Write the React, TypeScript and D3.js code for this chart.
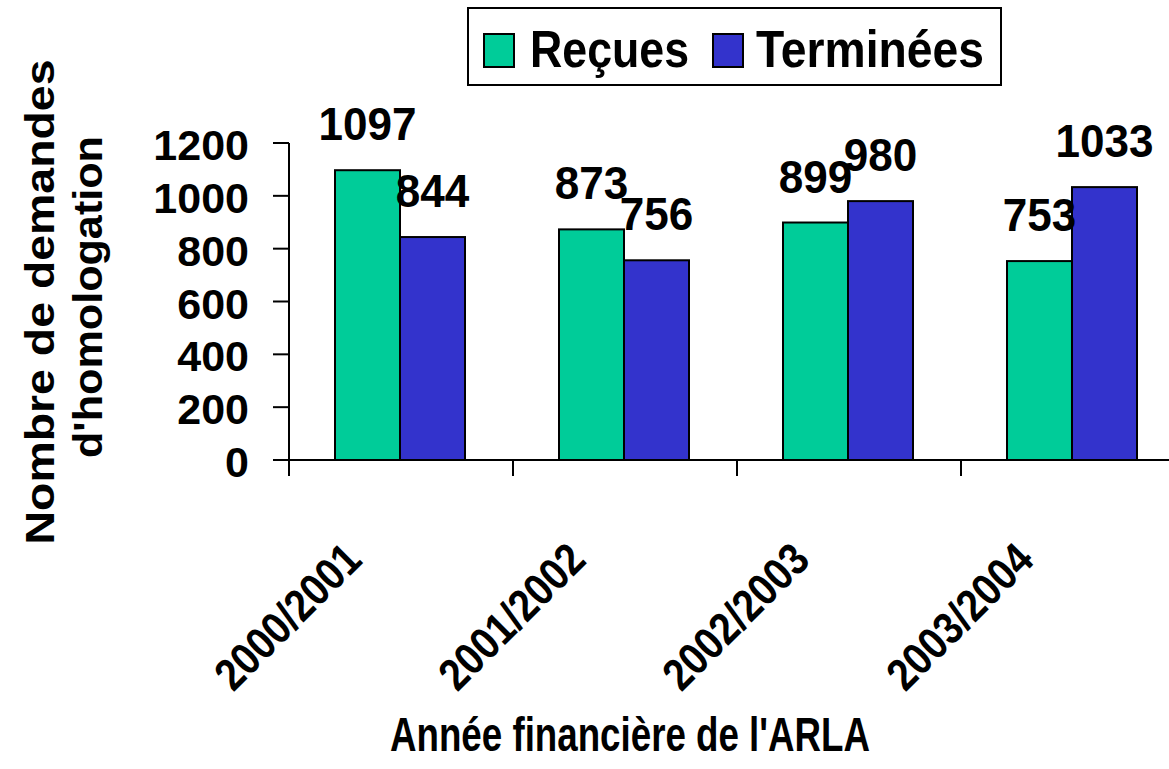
import React from 'react';
import * as d3 from 'd3';

const categories = ['2000/2001', '2001/2002', '2002/2003', '2003/2004'];
const seriesNames = ['Reçues', 'Terminées'];
const recues = [1097, 873, 899, 753];
const terminees = [844, 756, 980, 1033];
const yTicks = [0, 200, 400, 600, 800, 1000, 1200];
const colors = ['#00CC99', '#3333CC'];
const FONT = "Arial, 'Liberation Sans', Helvetica, sans-serif";

export default function App() {
  const W = 1169;
  const H = 769;
  const plotLeft = 289;
  const band = 224;
  const x0 = d3.scaleBand<string>().domain(categories).range([plotLeft, plotLeft + band * categories.length]).padding(0);
  const x1 = d3.scaleBand<string>().domain(seriesNames).range([46, 46 + 130]).padding(0);
  const y = d3.scaleLinear().domain([0, 1200]).range([460, 143]);
  const series = [recues, terminees];

  return (
    <svg width={W} height={H} style={{ position: 'absolute', left: 0, top: 0, background: '#fff' }} fontFamily={FONT} fontWeight="bold">
      <rect x={0} y={0} width={W} height={H} fill="#fff" />
      {/* bars */}
      {categories.map((c, i) =>
        seriesNames.map((s, k) => {
          const v = series[k][i];
          const bx = (x0(c) as number) + (x1(s) as number);
          return (
            <rect key={c + s} x={bx} y={y(v)} width={x1.bandwidth()} height={y(0) - y(v)} fill={colors[k]} stroke="#000" strokeWidth={2} />
          );
        })
      )}
      {/* axes */}
      <line x1={plotLeft} y1={y(1200)} x2={plotLeft} y2={476} stroke="#000" strokeWidth={2} />
      <line x1={273} y1={y(0)} x2={W + 20} y2={y(0)} stroke="#000" strokeWidth={2} />
      {yTicks.map((t) => (
        <g key={t}>
          <line x1={273} x2={plotLeft} y1={y(t)} y2={y(t)} stroke="#000" strokeWidth={2} />
          <text x={249} y={y(t) + 17} textAnchor="end" fontSize={43} fill="#000">{t}</text>
        </g>
      ))}
      {d3.range(categories.length + 1).map((i) => {
        const tx = plotLeft + i * band;
        return <line key={i} x1={tx} x2={tx} y1={y(0)} y2={476} stroke="#000" strokeWidth={2} />;
      })}
      {/* category labels */}
      {categories.map((c) => {
        const cx = (x0(c) as number) + x0.bandwidth() / 2 - 37;
        const cy = 562;
        return (
          <text key={c} x={cx} y={cy} textAnchor="end" fontSize={45} textLength={185} lengthAdjust="spacingAndGlyphs" transform={`rotate(-45 ${cx} ${cy})`} fill="#000">{c}</text>
        );
      })}
      {/* data labels */}
      {categories.map((c, i) =>
        seriesNames.map((s, k) => {
          const v = series[k][i];
          const cx = (x0(c) as number) + (x1(s) as number) + x1.bandwidth() / 2;
          const str = String(v);
          return (
            <text key={'l' + c + s} x={cx} y={y(v) - 30} textAnchor="middle" fontSize={47} textLength={str.length * 24.5} lengthAdjust="spacingAndGlyphs" fill="#000">{str}</text>
          );
        })
      )}
      {/* y title */}
      <text transform="translate(54 302) rotate(-90)" textAnchor="middle" fontSize={40} textLength={485} lengthAdjust="spacingAndGlyphs" fill="#000">Nombre de demandes</text>
      <text transform="translate(102 297) rotate(-90)" textAnchor="middle" fontSize={40} textLength={322} lengthAdjust="spacingAndGlyphs" fill="#000">d'homologation</text>
      {/* x title */}
      <text x={630} y={751} textAnchor="middle" fontSize={48} textLength={480} lengthAdjust="spacingAndGlyphs" fill="#000">Année financière de l'ARLA</text>
      {/* legend */}
      <rect x={468} y={8} width={533} height={77} fill="#fff" stroke="#000" strokeWidth={2} />
      <rect x={484} y={34} width={30} height={33} fill={colors[0]} stroke="#000" strokeWidth={2} />
      <text x={530} y={67} fontSize={52} textLength={159} lengthAdjust="spacingAndGlyphs" fill="#000">{seriesNames[0]}</text>
      <rect x={713} y={34} width={30} height={33} fill={colors[1]} stroke="#000" strokeWidth={2} />
      <text x={756} y={67} fontSize={52} textLength={228} lengthAdjust="spacingAndGlyphs" fill="#000">{seriesNames[1]}</text>
    </svg>
  );
}
